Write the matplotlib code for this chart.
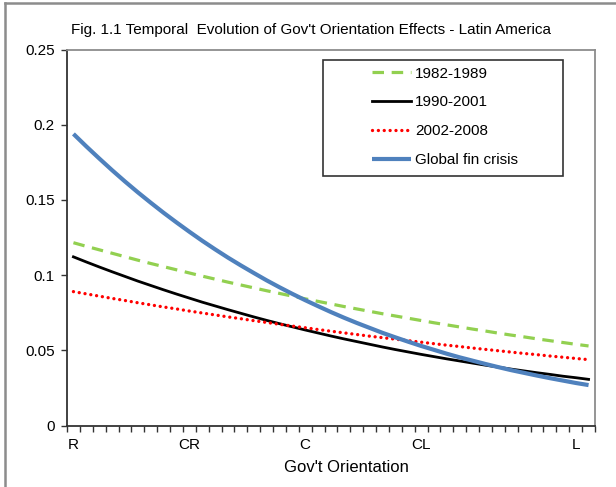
import matplotlib
matplotlib.use("Agg")
import matplotlib.pyplot as plt
from matplotlib.ticker import FixedLocator, FuncFormatter
from matplotlib.lines import Line2D
from matplotlib.patches import Rectangle

FONT = ["Liberation Sans", "DejaVu Sans"]
plt.rcParams["font.family"] = FONT

title = "Fig. 1.1 Temporal  Evolution of Gov't Orientation Effects - Latin America"
x_label = "Gov't Orientation"
tick_positions = [0, 9, 18, 27, 39]
tick_labels = ["R", "CR", "C", "CL", "L"]
series_names = ["1982-1989", "1990-2001", "2002-2008", "Global fin crisis"]

s1982_1989 = [0.1216, 0.1192, 0.1169, 0.1146, 0.1123, 0.1100, 0.1078, 0.1057, 0.1036, 0.1015,
              0.0994, 0.0974, 0.0954, 0.0935, 0.0916, 0.0897, 0.0879, 0.0861, 0.0843, 0.0826,
              0.0809, 0.0792, 0.0776, 0.0760, 0.0744, 0.0729, 0.0714, 0.0699, 0.0684, 0.0670,
              0.0656, 0.0642, 0.0629, 0.0615, 0.0602, 0.0590, 0.0577, 0.0565, 0.0553, 0.0541,
              0.0530]
s1990_2001 = [0.1122, 0.1088, 0.1055, 0.1023, 0.0992, 0.0961, 0.0932, 0.0903, 0.0875, 0.0848,
              0.0821, 0.0796, 0.0771, 0.0747, 0.0723, 0.0700, 0.0678, 0.0657, 0.0636, 0.0616,
              0.0596, 0.0577, 0.0559, 0.0541, 0.0523, 0.0506, 0.0490, 0.0474, 0.0459, 0.0444,
              0.0430, 0.0416, 0.0402, 0.0389, 0.0376, 0.0364, 0.0352, 0.0341, 0.0329, 0.0319,
              0.0308]
s2002_2008 = [0.0891, 0.0876, 0.0861, 0.0846, 0.0832, 0.0817, 0.0803, 0.0789, 0.0776, 0.0762,
              0.0749, 0.0736, 0.0723, 0.0711, 0.0698, 0.0686, 0.0674, 0.0662, 0.0651, 0.0639,
              0.0628, 0.0617, 0.0606, 0.0595, 0.0585, 0.0575, 0.0565, 0.0555, 0.0545, 0.0535,
              0.0526, 0.0516, 0.0507, 0.0498, 0.0489, 0.0480, 0.0472, 0.0463, 0.0455, 0.0447,
              0.0439]
s_global = [0.1939, 0.1856, 0.1776, 0.1698, 0.1623, 0.1551, 0.1482, 0.1415, 0.1351, 0.1289,
            0.1229, 0.1172, 0.1117, 0.1065, 0.1015, 0.0966, 0.0920, 0.0876, 0.0834, 0.0794,
            0.0755, 0.0718, 0.0683, 0.0650, 0.0617, 0.0587, 0.0558, 0.0530, 0.0504, 0.0478,
            0.0454, 0.0432, 0.0410, 0.0389, 0.0369, 0.0351, 0.0333, 0.0316, 0.0300, 0.0284,
            0.0270]

W, H = 616, 487
fig = plt.figure(figsize=(W / 100, H / 100), dpi=100)
fig.patch.set_facecolor("white")

def fx(px):
    return px / W

def fy(py):
    return 1 - py / H

left, right, top, bottom = 67, 595, 49.5, 425.7
ax = fig.add_axes([fx(left), fy(bottom), fx(right - left), (bottom - top) / H])

n = len(s_global)
xs = list(range(n))

l1, = ax.plot(xs, s1982_1989, color="#92D050", lw=2.3, linestyle=(0, (3.6, 2.4)),
              label=series_names[0])
l2, = ax.plot(xs, s1990_2001, color="black", lw=2.0, label=series_names[1])
l3, = ax.plot(xs, s2002_2008, color="#FF0000", lw=2.4, linestyle=(0, (0.01, 1.75)),
              dash_capstyle="round", label=series_names[2])
l4, = ax.plot(xs, s_global, color="#4F81BD", lw=3.0, solid_capstyle="butt",
              label=series_names[3])

ax.set_xlim(-0.5, n - 0.5)
ax.set_ylim(0, 0.25)
ax.set_yticks([0, 0.05, 0.1, 0.15, 0.2, 0.25])
ax.yaxis.set_major_formatter(FuncFormatter(lambda v, p: "%g" % round(v, 2)))
ax.tick_params(axis="y", direction="out", length=4, width=1, colors="#333333",
               labelsize=11, pad=5, labelcolor="black")

ax.xaxis.set_major_locator(FixedLocator(tick_positions))
ax.set_xticklabels(tick_labels)
ax.xaxis.set_minor_locator(FixedLocator([i - 0.5 for i in range(n + 1)]))
ax.tick_params(axis="x", which="major", length=0, labelsize=11, pad=9)
ax.tick_params(axis="x", which="minor", direction="out", length=4, width=1, colors="#333333")

ax.set_xlabel(x_label, fontsize=12)
ax.xaxis.set_label_coords((346 - left) / (right - left), -(467 - bottom) / (bottom - top))
ax.xaxis.label.set_va("center")

for s in ["left", "bottom"]:
    ax.spines[s].set_color("#333333")
    ax.spines[s].set_linewidth(1.3)
for s in ["right", "top"]:
    ax.spines[s].set_color("#8c8c8c")
    ax.spines[s].set_linewidth(1.3)

fig.text(fx(311), fy(30), title, ha="center", va="center", fontsize=11)

# legend box
fig.patches.append(Rectangle((fx(323), fy(176)), fx(563 - 323), (176 - 60) / H,
                             transform=fig.transFigure, fill=True, facecolor="white",
                             edgecolor="#333333", lw=1.2, zorder=3))
leg = fig.legend(handles=[l1, l2, l3, l4], loc="upper left",
                 bbox_to_anchor=(fx(364), fy(59)), frameon=False, fontsize=11,
                 handlelength=2.6, handletextpad=0.25, labelspacing=0.97,
                 borderaxespad=0, borderpad=0.5)
leg.set_zorder(4)

# outer chart frame
fig.add_artist(Line2D([fx(5), fx(5)], [fy(3), 0], transform=fig.transFigure,
                      color="#8c8c8c", lw=1.8))
fig.add_artist(Line2D([fx(5), 1], [fy(3), fy(3)], transform=fig.transFigure,
                      color="#8c8c8c", lw=1.8))

fig.savefig("out.png", dpi=100)
